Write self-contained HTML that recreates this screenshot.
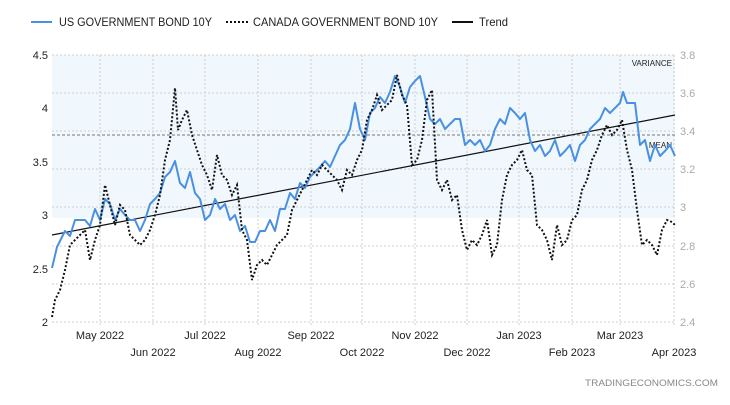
<!DOCTYPE html>
<html><head><meta charset="utf-8"><style>
body{margin:0;background:#fff;width:730px;height:400px;overflow:hidden;font-family:"Liberation Sans",sans-serif}
</style></head><body>
<svg width="730" height="400" xmlns="http://www.w3.org/2000/svg" font-family="Liberation Sans, sans-serif">
<rect x="52" y="55" width="623" height="163" fill="#f0f7fd"/>
<g stroke="#cfcfcf" stroke-dasharray="2,2" stroke-width="1">
<line x1="52" x2="675" y1="55" y2="55"/><line x1="52" x2="675" y1="93" y2="93"/><line x1="52" x2="675" y1="131" y2="131"/><line x1="52" x2="675" y1="169" y2="169"/><line x1="52" x2="675" y1="207" y2="207"/><line x1="52" x2="675" y1="246" y2="246"/><line x1="52" x2="675" y1="284" y2="284"/><line x1="52" x2="675" y1="322" y2="322"/>
<line x1="100" x2="100" y1="55" y2="326"/><line x1="153" x2="153" y1="55" y2="326"/><line x1="205" x2="205" y1="55" y2="326"/><line x1="258" x2="258" y1="55" y2="326"/><line x1="311" x2="311" y1="55" y2="326"/><line x1="362" x2="362" y1="55" y2="326"/><line x1="415" x2="415" y1="55" y2="326"/><line x1="467" x2="467" y1="55" y2="326"/><line x1="519" x2="519" y1="55" y2="326"/><line x1="572" x2="572" y1="55" y2="326"/><line x1="620" x2="620" y1="55" y2="326"/><line x1="674" x2="674" y1="55" y2="326"/>
</g>
<line x1="52" x2="675" y1="135" y2="135" stroke="#777" stroke-dasharray="3,2"/>
<text x="672" y="66" font-size="8" text-anchor="end" fill="#222">VARIANCE</text>
<text x="672" y="148" font-size="8" text-anchor="end" fill="#222">MEAN</text>
<g font-size="11" fill="#222" text-anchor="end">
<text x="48" y="59">4.5</text><text x="48" y="112">4</text><text x="48" y="166">3.5</text><text x="48" y="219">3</text><text x="48" y="273">2.5</text><text x="48" y="326">2</text>
</g>
<g font-size="11" fill="#aaa">
<text x="680" y="59">3.8</text><text x="680" y="97">3.6</text><text x="680" y="135">3.4</text><text x="680" y="173">3.2</text><text x="680" y="211">3</text><text x="680" y="250">2.8</text><text x="680" y="288">2.6</text><text x="680" y="326">2.4</text>
</g>
<g font-size="11" fill="#222" text-anchor="middle">
<text x="100" y="339">May 2022</text><text x="205" y="339">Jul 2022</text><text x="311" y="339">Sep 2022</text><text x="415" y="339">Nov 2022</text><text x="519" y="339">Jan 2023</text><text x="620" y="339">Mar 2023</text>
<text x="153" y="356">Jun 2022</text><text x="258" y="356">Aug 2022</text><text x="362" y="356">Oct 2022</text><text x="467" y="356">Dec 2022</text><text x="572" y="356">Feb 2023</text><text x="674" y="356">Apr 2023</text>
</g>
<line x1="52" y1="235" x2="675" y2="115" stroke="#111" stroke-width="1.2"/>
<polyline fill="none" stroke="#4a90e2" stroke-width="2" stroke-linejoin="round" points="52,268 57,247 65,231 70,236 75,220 85,220 90,226 95,209 100,220 105,199 110,204 115,220 120,209 125,215 130,220 135,220 140,231 145,220 150,204 155,199 160,193 165,177 170,172 175,161 180,183 185,188 190,172 195,193 200,199 205,220 210,215 215,199 220,209 225,204 230,220 235,215 240,231 245,226 250,242 255,242 260,231 265,231 270,220 275,231 280,209 285,209 290,193 295,199 300,183 305,188 310,177 315,172 320,167 325,161 330,167 335,156 340,145 345,140 350,129 355,103 360,129 365,140 370,113 375,108 380,97 385,103 390,92 395,76 400,87 405,103 410,87 415,81 420,76 425,97 430,119 435,124 440,119 445,129 450,124 455,119 460,119 465,145 470,140 475,145 480,140 485,151 490,145 495,129 500,119 505,124 510,108 515,113 520,119 525,113 530,140 535,151 540,145 545,156 550,151 555,140 560,156 565,151 570,145 575,161 580,145 585,140 590,129 595,124 600,119 605,108 610,113 615,108 620,103 623,92 627,103 635,103 640,145 645,140 650,161 655,145 660,156 665,151 670,145 675,156"/>
<polyline fill="none" stroke="#111" stroke-width="2" stroke-dasharray="2,2" points="52,317 55,300 60,290 65,270 70,245 75,240 80,235 85,230 90,260 95,240 100,225 105,185 110,205 115,225 120,205 125,210 130,235 135,240 140,245 145,240 150,230 155,215 160,195 165,160 170,140 175,88 178,130 182,120 187,110 192,135 197,150 202,165 207,175 212,190 217,155 222,175 227,180 232,195 237,185 242,230 247,240 252,280 257,265 262,260 267,265 272,255 277,245 282,240 287,235 292,210 297,200 302,190 307,180 312,170 317,175 322,165 327,170 332,175 337,180 342,190 347,170 352,175 357,160 362,150 367,120 372,110 377,95 382,110 387,105 392,100 397,75 402,95 407,105 412,165 417,160 422,140 427,100 432,90 437,180 442,190 447,180 452,200 457,195 462,230 467,250 472,240 477,245 482,235 487,220 492,255 497,245 502,200 507,175 512,165 517,160 522,150 527,170 532,175 537,225 542,230 547,240 552,260 557,225 562,245 567,240 572,220 577,215 582,190 587,180 592,160 597,150 602,135 607,125 612,135 617,130 622,120 627,150 632,170 637,210 642,245 647,240 652,245 657,255 662,230 667,220 672,222 675,225"/>
<line x1="31" x2="52" y1="22" y2="22" stroke="#4a90e2" stroke-width="2"/>
<text x="59" y="26" font-size="12" fill="#222" textLength="153" lengthAdjust="spacingAndGlyphs">US GOVERNMENT BOND 10Y</text>
<line x1="226" x2="248" y1="22" y2="22" stroke="#111" stroke-width="2" stroke-dasharray="2,2"/>
<text x="253" y="26" font-size="12" fill="#222" textLength="185" lengthAdjust="spacingAndGlyphs">CANADA GOVERNMENT BOND 10Y</text>
<line x1="452" x2="473" y1="22" y2="22" stroke="#111" stroke-width="2"/>
<text x="479" y="26" font-size="12" fill="#222" textLength="29" lengthAdjust="spacingAndGlyphs">Trend</text>
<text x="585" y="386" font-size="9" fill="#888" textLength="133" lengthAdjust="spacingAndGlyphs">TRADINGECONOMICS.COM</text>
</svg>
</body></html>
